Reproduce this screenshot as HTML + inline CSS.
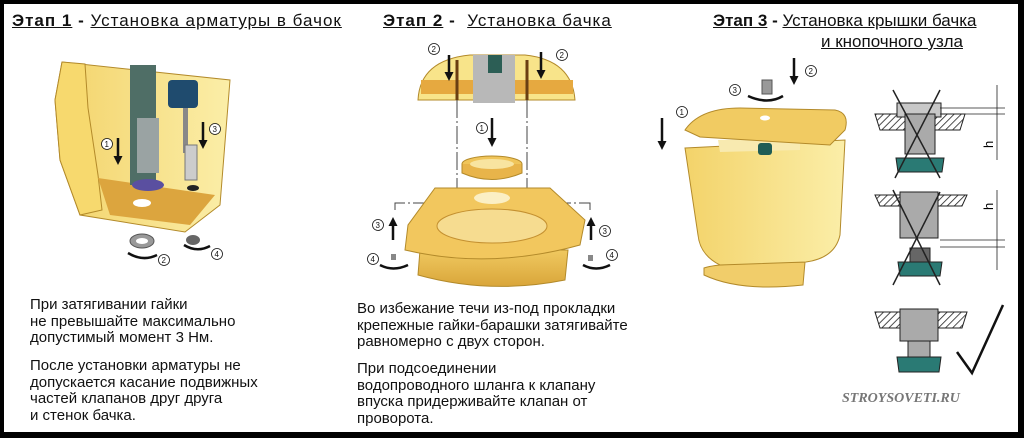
<!DOCTYPE html>
<html><head><meta charset="utf-8"><style>
html,body{margin:0;padding:0;background:#000}
#w{position:relative;width:1024px;height:438px;overflow:hidden;background:#000}
#p{position:absolute;left:4px;top:4px;width:1014px;height:428px;background:#fff}
.t{position:absolute;font-family:"Liberation Sans","Noto Sans CJK SC",sans-serif;color:#111;white-space:nowrap}
.h{font-size:17px}
.h b,.h u{text-decoration:underline}
.tx{font-size:15px;line-height:16.7px}
svg{position:absolute;left:0;top:0}
</style></head><body><div id="w"><div id="p"></div>
<svg width="1024" height="438" viewBox="0 0 1024 438">
<defs>
<linearGradient id="y1" x1="0" x2="1"><stop offset="0" stop-color="#f3d36a"/><stop offset="1" stop-color="#fbeea8"/></linearGradient>
<linearGradient id="y2" x1="0" x2="0" y1="0" y2="1"><stop offset="0" stop-color="#f0c960"/><stop offset="1" stop-color="#d9a53a"/></linearGradient>
<pattern id="hat" width="5" height="5" patternUnits="userSpaceOnUse" patternTransform="rotate(45)"><rect width="5" height="5" fill="#fff"/><line x1="0" y1="0" x2="0" y2="5" stroke="#222" stroke-width="1.6"/></pattern>
<marker id="ar" markerUnits="userSpaceOnUse" markerWidth="9" markerHeight="9" refX="4" refY="4.5" orient="auto"><path d="M0,0 L9,4.5 L0,9z" fill="#111"/></marker>
</defs>
<!-- Stage 1 tank -->
<path d="M55,100 L62,62 L230,80 L220,205 L185,232 L80,215 L60,160Z" fill="url(#y1)" stroke="#b38a2a"/>
<path d="M62,62 L85,64 L88,108 L98,175 L102,210 L80,215 L60,160 L55,100Z" fill="#f7d96e" stroke="#b38a2a"/>
<path d="M98,178 L215,195 L190,225 L110,215Z" fill="#dca53e"/>
<ellipse cx="142" cy="203" rx="9" ry="4" fill="#fff"/>
<rect x="130" y="65" width="26" height="120" fill="#4f6e66"/>
<rect x="137" y="118" width="22" height="55" fill="#9aa3a3"/>
<ellipse cx="148" cy="185" rx="16" ry="6" fill="#5a4fa0"/>
<rect x="168" y="80" width="30" height="28" rx="4" fill="#1f4b6e"/>
<rect x="183" y="108" width="5" height="45" fill="#888"/>
<rect x="185" y="145" width="12" height="35" fill="#ccc" stroke="#777"/>
<ellipse cx="193" cy="188" rx="6" ry="3" fill="#222"/>
<line x1="118" y1="138" x2="118" y2="160" stroke="#111" stroke-width="2.5" marker-end="url(#ar)"/>
<line x1="203" y1="122" x2="203" y2="144" stroke="#111" stroke-width="2.5" marker-end="url(#ar)"/>
<ellipse cx="142" cy="241" rx="12" ry="7" fill="#999" stroke="#555"/><ellipse cx="142" cy="241" rx="6" ry="3" fill="#fff"/>
<ellipse cx="193" cy="240" rx="7" ry="5" fill="#666"/>
<path d="M128,253 Q143,262 157,255" fill="none" stroke="#111" stroke-width="2.5"/>
<path d="M184,245 Q197,253 210,246" fill="none" stroke="#111" stroke-width="2.5"/>
<g font-family="Liberation Sans" font-size="8" fill="#111" stroke="#111">
<circle cx="107" cy="144" r="5.5" fill="#fff" stroke-width=".8"/><text x="104.5" y="147" stroke="none">1</text>
<circle cx="215" cy="129" r="5.5" fill="#fff" stroke-width=".8"/><text x="212.5" y="132" stroke="none">3</text>
<circle cx="164" cy="260" r="5.5" fill="#fff" stroke-width=".8"/><text x="161.5" y="263" stroke="none">2</text>
<circle cx="217" cy="254" r="5.5" fill="#fff" stroke-width=".8"/><text x="214.5" y="257" stroke="none">4</text>
</g>
<!-- Stage 2 -->
<path d="M418,100 Q420,60 470,55 L525,55 Q572,60 575,100Z" fill="#f8e48a" stroke="#b38a2a"/>
<rect x="421" y="80" width="152" height="14" fill="#e6a940"/>
<rect x="473" y="55" width="42" height="48" fill="#b8b8b8"/>
<rect x="488" y="55" width="14" height="18" fill="#2c5e55"/>
<line x1="457" y1="60" x2="457" y2="100" stroke="#6a3e12" stroke-width="3"/>
<line x1="527" y1="60" x2="527" y2="100" stroke="#6a3e12" stroke-width="3"/>
<path d="M457,100 V203 M527,100 V203 M457,203 H395 V210 M527,203 H590 V210" fill="none" stroke="#444" stroke-width="1" stroke-dasharray="18 3 2 3"/>
<ellipse cx="492" cy="164" rx="30" ry="8" fill="#f0c55a" stroke="#b38a2a"/>
<path d="M462,164 V173 Q492,186 522,173 V164" fill="#e8b44a" stroke="#b38a2a"/>
<ellipse cx="492" cy="164" rx="22" ry="5" fill="#f8e4a0"/>
<path d="M420,250 L418,275 Q490,295 565,280 L568,250Z" fill="url(#y2)" stroke="#b38a2a"/>
<path d="M435,188 L550,188 L585,220 L580,245 Q490,270 405,250 L408,225Z" fill="#f2c75e" stroke="#b38a2a"/>
<ellipse cx="492" cy="226" rx="55" ry="17" fill="#f6dc90" stroke="#c49030"/>
<ellipse cx="492" cy="198" rx="18" ry="6" fill="#fbefc4"/>
<line x1="393" y1="240" x2="393" y2="222" stroke="#111" stroke-width="2.5" marker-end="url(#ar)"/>
<line x1="591" y1="240" x2="591" y2="222" stroke="#111" stroke-width="2.5" marker-end="url(#ar)"/>
<line x1="449" y1="55" x2="449" y2="76" stroke="#111" stroke-width="2.5" marker-end="url(#ar)"/>
<line x1="541" y1="52" x2="541" y2="74" stroke="#111" stroke-width="2.5" marker-end="url(#ar)"/>
<line x1="492" y1="118" x2="492" y2="142" stroke="#111" stroke-width="2.5" marker-end="url(#ar)"/>
<path d="M380,265 Q393,272 408,265 M583,265 Q596,272 610,265" fill="none" stroke="#111" stroke-width="2.5"/>
<rect x="391" y="254" width="5" height="6" fill="#888"/><rect x="588" y="255" width="5" height="6" fill="#888"/>
<g font-family="Liberation Sans" font-size="8" fill="#111" stroke="#111">
<circle cx="434" cy="49" r="5.5" fill="#fff" stroke-width=".8"/><text x="431.5" y="52" stroke="none">2</text>
<circle cx="562" cy="55" r="5.5" fill="#fff" stroke-width=".8"/><text x="559.5" y="58" stroke="none">2</text>
<circle cx="482" cy="128" r="5.5" fill="#fff" stroke-width=".8"/><text x="479.5" y="131" stroke="none">1</text>
<circle cx="378" cy="225" r="5.5" fill="#fff" stroke-width=".8"/><text x="375.5" y="228" stroke="none">3</text>
<circle cx="605" cy="231" r="5.5" fill="#fff" stroke-width=".8"/><text x="602.5" y="234" stroke="none">3</text>
<circle cx="373" cy="259" r="5.5" fill="#fff" stroke-width=".8"/><text x="370.5" y="262" stroke="none">4</text>
<circle cx="612" cy="255" r="5.5" fill="#fff" stroke-width=".8"/><text x="609.5" y="258" stroke="none">4</text>
</g>
<!-- Stage 3 tank -->
<path d="M704,268 Q720,262 805,262 L803,285 Q740,292 704,275Z" fill="#f1cd6a" stroke="#b38a2a"/>
<path d="M685,148 L845,140 L840,235 Q835,258 806,262 L720,265 Q700,255 698,235Z" fill="url(#y1)" stroke="#b38a2a"/>
<path d="M718,140 L800,138 L800,150 L720,152Z" fill="#f8eab0"/>
<path d="M685,130 Q700,108 740,108 L835,110 Q850,113 845,130 L830,145 L700,137Z" fill="#f1cb62" stroke="#b38a2a"/>
<ellipse cx="765" cy="118" rx="5" ry="2.5" fill="#fff"/>
<rect x="758" y="143" width="14" height="12" rx="3" fill="#1f5c55"/>
<rect x="762" y="80" width="10" height="14" fill="#999" stroke="#555"/>
<line x1="662" y1="118" x2="662" y2="145" stroke="#111" stroke-width="2.5" marker-end="url(#ar)"/>
<line x1="794" y1="58" x2="794" y2="80" stroke="#111" stroke-width="2.5" marker-end="url(#ar)"/>
<path d="M748,96 Q768,105 783,96" fill="none" stroke="#111" stroke-width="2.5"/>
<g font-family="Liberation Sans" font-size="8" fill="#111" stroke="#111">
<circle cx="682" cy="112" r="5.5" fill="#fff" stroke-width=".8"/><text x="679.5" y="115" stroke="none">1</text>
<circle cx="811" cy="71" r="5.5" fill="#fff" stroke-width=".8"/><text x="808.5" y="74" stroke="none">2</text>
<circle cx="735" cy="90" r="5.5" fill="#fff" stroke-width=".8"/><text x="732.5" y="93" stroke="none">3</text>
</g>
<!-- detail views -->
<g stroke="#222">
<path d="M875,114 L905,114 L905,130 L880,130Z" fill="url(#hat)"/><path d="M935,114 L965,114 L960,130 L935,130Z" fill="url(#hat)"/>
<rect x="897" y="103" width="44" height="14" fill="#c8c8c8"/><rect x="905" y="114" width="30" height="40" fill="#aaa"/>
<path d="M896,158 L944,158 L942,172 L898,172Z" fill="#2a7a74"/>
<line x1="893" y1="90" x2="940" y2="178" stroke-width="1.5"/><line x1="940" y1="90" x2="895" y2="178" stroke-width="1.5"/>
<path d="M875,195 L905,195 L905,206 L880,206Z" fill="url(#hat)"/><path d="M935,195 L967,195 L962,206 L935,206Z" fill="url(#hat)"/>
<rect x="900" y="192" width="38" height="46" fill="#aaa"/>
<rect x="910" y="248" width="20" height="14" fill="#666"/>
<path d="M898,262 L942,262 L940,276 L900,276Z" fill="#2a7a74"/>
<line x1="893" y1="190" x2="940" y2="285" stroke-width="1.5"/><line x1="940" y1="192" x2="893" y2="285" stroke-width="1.5"/>
<path d="M875,312 L905,312 L905,328 L880,328Z" fill="url(#hat)"/><path d="M935,312 L967,312 L962,328 L935,328Z" fill="url(#hat)"/>
<rect x="900" y="309" width="38" height="32" fill="#aaa"/><rect x="908" y="341" width="22" height="16" fill="#aaa"/>
<path d="M897,357 L941,357 L939,372 L899,372Z" fill="#2a7a74"/>
<path d="M957,352 L972,373 L1003,305" fill="none" stroke="#111" stroke-width="2.5"/>
<g stroke-width=".8" fill="none">
<line x1="940" y1="108" x2="1005" y2="108"/><line x1="940" y1="114" x2="1005" y2="114"/><line x1="997" y1="85" x2="997" y2="160"/>
<line x1="940" y1="240" x2="1005" y2="240"/><line x1="940" y1="247" x2="1005" y2="247"/><line x1="997" y1="190" x2="997" y2="270"/>
</g></g>
<text x="993" y="148" font-family="Liberation Sans" font-size="13" transform="rotate(-90 993 148)">h</text>
<text x="993" y="210" font-family="Liberation Sans" font-size="13" transform="rotate(-90 993 210)">h</text>
<text x="842" y="402" font-family="Liberation Serif" font-weight="bold" font-style="italic" font-size="14" fill="#777">STROYSOVETI.RU</text>
</svg>
<div class="t h" style="left:12px;top:11px;letter-spacing:1px"><b>Этап 1</b> <b style="text-decoration:none">-</b> <u>Установка арматуры в бачок</u></div>
<div class="t h" style="left:383px;top:11px;letter-spacing:1px"><b>Этап 2</b> <b style="text-decoration:none">-</b>&nbsp; <u>Установка бачка</u></div>
<div class="t h" style="left:713px;top:11px"><b>Этап 3</b> <b style="text-decoration:none">-</b> <u>Установка крышки бачка</u></div>
<div class="t h" style="left:821px;top:32px"><u>и кнопочного узла</u></div>
<div class="t tx" style="left:30px;top:297px">При затягивании гайки<br>не превышайте максимально<br>допустимый момент 3 Нм.</div>
<div class="t tx" style="left:30px;top:358px">После установки арматуры не<br>допускается касание подвижных<br>частей клапанов друг друга<br>и стенок бачка.</div>
<div class="t tx" style="left:357px;top:301px">Во избежание течи из-под прокладки<br>крепежные гайки-барашки затягивайте<br>равномерно с двух сторон.</div>
<div class="t tx" style="left:357px;top:361px">При подсоединении<br>водопроводного шланга к клапану<br>впуска придерживайте клапан от<br>проворота.</div>
</div></body></html>
